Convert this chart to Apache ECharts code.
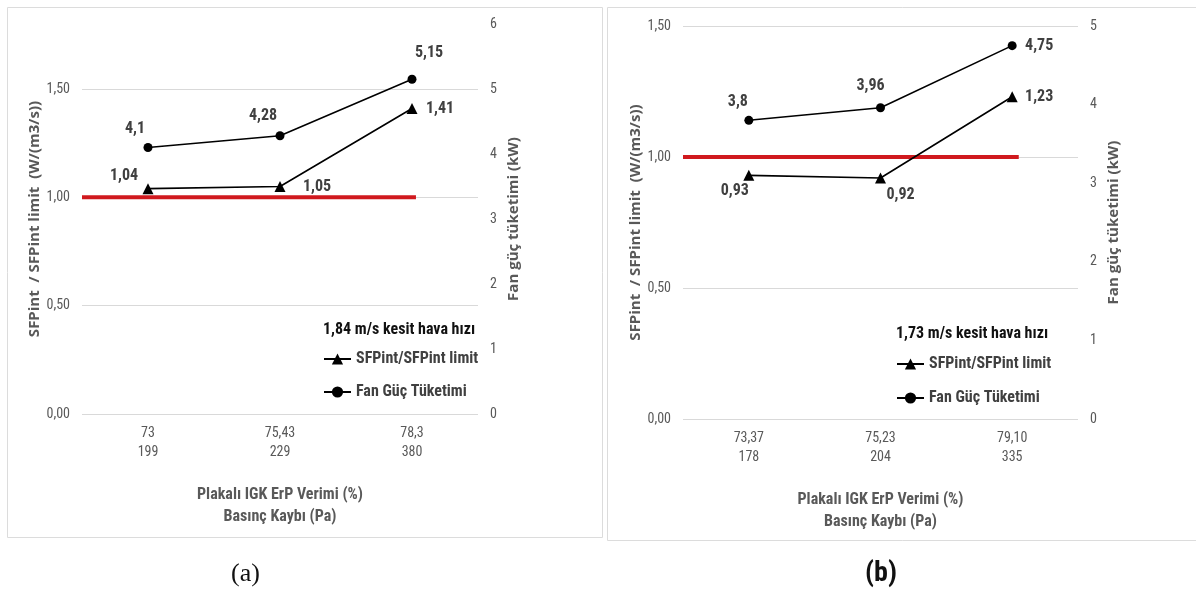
<!DOCTYPE html>
<html>
<head>
<meta charset="utf-8">
<script src="https://cdn.jsdelivr.net/npm/echarts@6/dist/echarts.min.js"></script>
<style>html,body{margin:0;padding:0;background:#fff}#c{width:1196px;height:595px}</style>
</head>
<body>
<div id="c"></div>
<script>
// ---- data ----
var effA = ['73', '75,43', '78,3'];
var paA = ['199', '229', '380'];
var sfpA = [1.04, 1.05, 1.41];
var fanA = [4.1, 4.28, 5.15];
var speedA = '1,84 m/s kesit hava hızı';

var effB = ['73,37', '75,23', '79,10'];
var paB = ['178', '204', '335'];
var sfpB = [0.93, 0.92, 1.23];
var fanB = [3.8, 3.96, 4.75];
var speedB = '1,73 m/s kesit hava hızı';

var limitA = [[-0.5, 1], [2.03, 1]];
var limitB = [[-0.5, 1], [2.05, 1]];

var leftTicksA = {min: 0, max: 1.8, interval: 0.5};
var rightTicksA = {min: 0, max: 6, interval: 1};
var leftTicksB = {min: 0, max: 1.5, interval: 0.5};
var rightTicksB = {min: 0, max: 5, interval: 1};

var nameSFP = 'SFPint/SFPint limit';
var nameFan = 'Fan Güç Tüketimi';
var yNameLeft = 'SFPint  / SFPint limit  (W/(m3/s))';
var yNameRight = 'Fan güç tüketimi (kW)';
var xName = 'Plakalı IGK ErP Verimi (%)\nBasınç Kaybı (Pa)';

// ---- styles (label offsets) ----
var offSfpA = [[-24, -13], [37, 0], [28, 0]];
var offFanA = [[-13, -19], [-17, -20], [17, -26]];
var offSfpB = [[-14, 16], [20, 17], [27, 0]];
var offFanB = [[-11, -18], [-10, -22], [27, 0]];

var NARROW = "'Liberation Sans Narrow', 'Roboto Condensed', 'Roboto', sans-serif";
var WIDE = "'Open Sans', 'Noto Sans', sans-serif";
var GRAY = '#595959';
var RED = '#d0191e';

function fmt(v) { return String(v).replace('.', ','); }
function cats(a, b) { return a.map(function (v, i) { return v + '\n' + b[i]; }); }
function pts(vals, offs) {
  return vals.map(function (v, i) {
    return {value: v, label: {position: 'inside', offset: offs[i]}};
  });
}

function xCat(gi, c) {
  return {
    type: 'category', gridIndex: gi, data: c, boundaryGap: true,
    axisLine: {show: false}, axisTick: {show: false},
    axisLabel: {color: GRAY, fontFamily: NARROW, fontSize: 14, lineHeight: 19, margin: 10},
    name: xName, nameLocation: 'middle', nameGap: 70,
    nameTextStyle: {color: GRAY, fontFamily: NARROW, fontWeight: 'bold', fontSize: 16, lineHeight: 22}
  };
}
function xVal(gi) {
  return {type: 'value', gridIndex: gi, min: -0.5, max: 2.5, show: false};
}
function yLeft(gi, t) {
  return {
    type: 'value', gridIndex: gi, position: 'left', min: t.min, max: t.max, interval: t.interval,
    axisLine: {show: false}, axisTick: {show: false},
    axisLabel: {color: GRAY, fontFamily: NARROW, fontSize: 14, margin: 12, showMaxLabel: t.max % t.interval === 0,
      formatter: function (v) { return v.toFixed(2).replace('.', ','); }},
    splitLine: {show: true, showMaxLine: t.max % t.interval === 0, lineStyle: {color: '#d9d9d9', width: 1}},
    name: yNameLeft, nameLocation: 'middle', nameGap: 40, nameRotate: 90,
    nameTextStyle: {color: GRAY, fontFamily: WIDE, fontWeight: 'bold', fontSize: 15}
  };
}
function yRight(gi, t) {
  return {
    type: 'value', gridIndex: gi, position: 'right', min: t.min, max: t.max, interval: t.interval,
    axisLine: {show: false}, axisTick: {show: false}, splitLine: {show: false},
    axisLabel: {color: GRAY, fontFamily: NARROW, fontSize: 14, margin: 12},
    name: yNameRight, nameLocation: 'middle', nameGap: 28, nameRotate: 90,
    nameTextStyle: {color: GRAY, fontFamily: WIDE, fontWeight: 'bold', fontSize: 15}
  };
}
var lblStyle = {show: true, color: '#404040', fontFamily: NARROW, fontWeight: 'bold', fontSize: 16,
  formatter: function (p) { return fmt(p.value); }};

function lineSeries(name, xi, yi, data, sym, size) {
  return {
    name: name, type: 'line', xAxisIndex: xi, yAxisIndex: yi, data: data,
    symbol: sym, symbolSize: size, z: 3,
    lineStyle: {color: '#000', width: 1.6}, itemStyle: {color: '#000'},
    label: lblStyle, emphasis: {disabled: true}, animation: false
  };
}
function redSeries(xi, yi, data) {
  return {
    name: 'limit', type: 'line', xAxisIndex: xi, yAxisIndex: yi, data: data,
    symbol: 'none', z: 2, lineStyle: {color: RED, width: 4}, animation: false, silent: true
  };
}
function legend(left, top, gap) {
  return {
    orient: 'vertical', left: left, top: top, padding: 0, itemGap: gap,
    itemWidth: 27, itemHeight: 14, data: [nameSFP, nameFan], selectedMode: false,
    textStyle: {color: '#404040', fontFamily: NARROW, fontWeight: 'bold', fontSize: 16}
  };
}

var chart = echarts.init(document.getElementById('c'), null, {renderer: 'canvas'});
chart.setOption({
  backgroundColor: '#fff',
  animation: false,
  graphic: [
    {type: 'rect', shape: {x: 7.5, y: 7.5, width: 595, height: 530}, style: {fill: 'none', stroke: '#dcdcdc', lineWidth: 1}, z: -10},
    {type: 'rect', shape: {x: 607.5, y: 7.5, width: 600, height: 533}, style: {fill: 'none', stroke: '#dcdcdc', lineWidth: 1}, z: -10},
    {type: 'text', left: 231, top: 561, style: {text: '(a)', font: "26px 'Liberation Serif', serif", fill: '#111'}},
    {type: 'text', left: 865, top: 560, style: {text: '(b)', font: "bold 28px " + NARROW, fill: '#111'}}
  ],
  title: [
    {text: speedA, left: 323, top: 322, padding: 0, textStyle: {color: '#111', fontFamily: NARROW, fontWeight: 'bold', fontSize: 16}},
    {text: speedB, left: 896, top: 326, padding: 0, textStyle: {color: '#111', fontFamily: NARROW, fontWeight: 'bold', fontSize: 16}}
  ],
  legend: [legend(323, 351, 17), legend(896, 356, 18)],
  grid: [
    {left: 82, top: 24, width: 396, height: 390},
    {left: 683, top: 26, width: 395, height: 393}
  ],
  xAxis: [xCat(0, cats(effA, paA)), xVal(0), xCat(1, cats(effB, paB)), xVal(1)],
  yAxis: [yLeft(0, leftTicksA), yRight(0, rightTicksA), yLeft(1, leftTicksB), yRight(1, rightTicksB)],
  series: [
    redSeries(1, 0, limitA),
    lineSeries(nameSFP, 0, 0, pts(sfpA, offSfpA), 'triangle', 11),
    lineSeries(nameFan, 0, 1, pts(fanA, offFanA), 'circle', 9),
    redSeries(3, 2, limitB),
    lineSeries(nameSFP, 2, 2, pts(sfpB, offSfpB), 'triangle', 11),
    lineSeries(nameFan, 2, 3, pts(fanB, offFanB), 'circle', 9)
  ]
});
</script>
</body>
</html>
